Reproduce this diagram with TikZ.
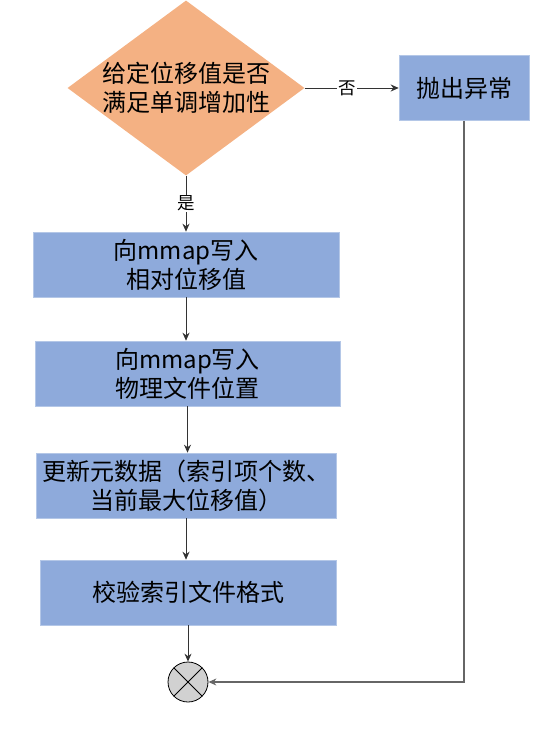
\documentclass[tikz,border=0pt]{standalone}
\usepackage{fontspec}
\setmainfont{Noto Sans CJK SC}
\usetikzlibrary{shapes.geometric,arrows.meta,calc}
\definecolor{boxblue}{HTML}{8EAADB}
\definecolor{boxedge}{HTML}{B4C7E7}
\definecolor{dorange}{HTML}{F4B183}
\definecolor{linegray}{HTML}{333333}
\tikzset{
  x=1pt,y=1pt,
  stepbox/.style={rectangle,fill=boxblue,draw=boxedge,line width=0.6pt,
    minimum height=65pt,inner sep=0pt,align=center,
    font=\fontsize{24}{29}\selectfont},
  decbox/.style={diamond,fill=dorange,draw=none,minimum width=237pt,
    minimum height=175pt,inner sep=0pt},
  txt/.style={align=center,font=\fontsize{24}{29}\selectfont},
  lbl/.style={fill=white,inner sep=1pt,font=\fontsize{17.5}{20}\selectfont},
  arr/.style={draw=linegray,line width=0.9pt,-{Stealth[length=8pt,width=7pt]}},
  endc/.style={circle,draw=black,line width=0.8pt,fill=black!18,
    minimum width=40pt,minimum height=38pt,inner sep=0pt,
    path picture={\draw[line width=0.8pt]
      (path picture bounding box.north west) -- (path picture bounding box.south east)
      (path picture bounding box.north east) -- (path picture bounding box.south west);}}
}
\begin{document}
\begin{tikzpicture}
\useasboundingbox (0,0) rectangle (551,-730);
\node[decbox] (dec) at (186,-88) {};
\node[txt] (dectext) at (dec.center) {给定位移值是否\\满足单调增加性};
\node[stepbox,minimum width=130pt] (err) at (464,-88) {抛出异常};
\node[stepbox,minimum width=306pt] (b1) at (186,-264.5) {向mmap写入\\相对位移值};
\node[stepbox,minimum width=305pt] (b2) at (187.5,-373.5) {向mmap写入\\物理文件位置};
\node[stepbox,minimum width=300pt] (b3) at (186,-485.5) {更新元数据（索引项个数、\\当前最大位移值）};
\node[stepbox,minimum width=296pt] (b4) at (188,-592.5) {校验索引文件格式};
\node[endc] (end) at (188,-682) {};

\draw[arr] (dec.east) -- node[lbl,pos=0.45] {否} (err.west);
\draw[arr] (dec.south) -- node[lbl] {是} (dec.south |- b1.north);
\draw[arr] (b1.south) -- (b1.south |- b2.north);
\draw[arr] (b2.south) -- (b2.south |- b3.north);
\draw[arr] (b3.south) -- (b3.south |- b4.north);
\draw[arr] (b4.south) -- (end.north);
\draw[arr,draw=black!60,line width=1.1pt] (err.south) |- (end.east);
\end{tikzpicture}
\end{document}
